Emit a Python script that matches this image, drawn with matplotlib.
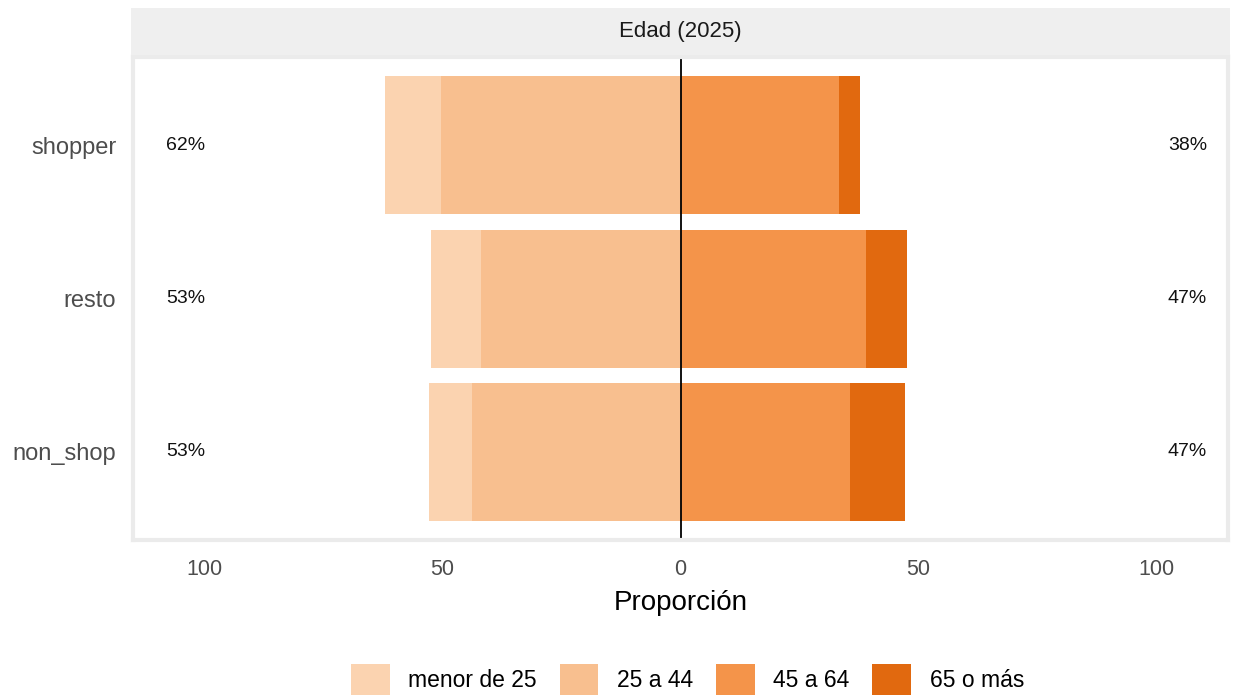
import numpy as np
import matplotlib
matplotlib.use("Agg")
import matplotlib.pyplot as plt
from matplotlib.patches import Patch

plt.rcParams["font.family"] = ["Liberation Sans", "DejaVu Sans"]

groups = ["shopper", "resto", "non_shop"]
levels = ["menor de 25", "25 a 44", "45 a 64", "65 o más"]
colors = ["#fbd3b0", "#f8bf8f", "#f4944a", "#e1690f"]

# percentages per group (menor de 25, 25 a 44, 45 a 64, 65 o más)
menor25 = [11.6, 10.5, 9.2]
de25a44 = [50.4, 42.0, 43.7]
de45a64 = [33.2, 38.9, 35.7]
mas65 = [4.4, 8.6, 11.4]
left_lbl = ["62%", "53%", "53%"]
right_lbl = ["38%", "47%", "47%"]

fig = plt.figure(figsize=(12.34, 6.97), dpi=100)
ax = fig.add_axes([133 / 1234, 1 - 540 / 697, 1095 / 1234, 483 / 697])

y = np.arange(len(groups), 0, -1)
h = 0.9
m25 = np.array(menor25)
a44 = np.array(de25a44)
a64 = np.array(de45a64)
m65 = np.array(mas65)

# negative side: 25 a 44 next to zero, menor de 25 outside
ax.barh(y, -a44, height=h, color=colors[1], linewidth=0)
ax.barh(y, -m25, left=-a44, height=h, color=colors[0], linewidth=0)
ax.barh(y, a64, height=h, color=colors[2], linewidth=0)
ax.barh(y, m65, left=a64, height=h, color=colors[3], linewidth=0)

for yi, l, r in zip(y, left_lbl, right_lbl):
    ax.text(-104, yi, l, ha="center", va="center", fontsize=14, color="#111111")
    ax.text(106.5, yi, r, ha="center", va="center", fontsize=14, color="#111111")

ax.axvline(0, color="black", linewidth=1.3)

ax.set_xlim(-115, 115)
ax.set_ylim(0.425, 3.575)
ax.set_yticks(y)
ax.set_yticklabels(groups, fontsize=17, color="#4d4d4d")
ax.set_xticks([-100, -50, 0, 50, 100])
ax.set_xticklabels(["100", "50", "0", "50", "100"], fontsize=15.5, color="#4d4d4d")
ax.tick_params(axis="both", length=0)
ax.tick_params(axis="x", pad=14)
ax.tick_params(axis="y", pad=12)
ax.set_xlabel("Proporción", fontsize=20, labelpad=7)
for s in ax.spines.values():
    s.set_color("#ebebeb")
    s.set_linewidth(3)

# facet strip
sx = fig.add_axes([131 / 1234, 1 - 55 / 697, 1099 / 1234, 47 / 697])
sx.set_facecolor("#efefef")
sx.set_xticks([])
sx.set_yticks([])
for s in sx.spines.values():
    s.set_visible(False)
sx.text(0.5, 0.5, "Edad (2025)", ha="center", va="center", fontsize=16, color="#1a1a1a")

handles = [Patch(facecolor=c, edgecolor="none", label=l) for c, l in zip(colors, levels)]
fig.legend(handles=handles, loc="center", bbox_to_anchor=(0.557, 0.025), ncol=4,
           frameon=False, fontsize=16.5, handlelength=1.7, handleheight=1.7,
           columnspacing=1.0, handletextpad=0.8)

fig.savefig("out.png", dpi=100)
